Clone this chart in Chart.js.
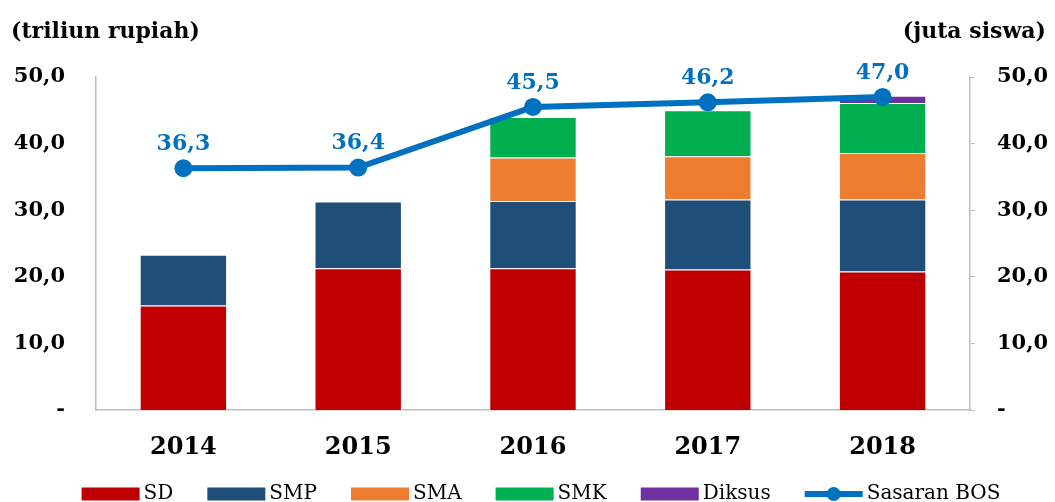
<!DOCTYPE html>
<html>
<head>
<meta charset="utf-8">
<script src="https://cdn.jsdelivr.net/npm/chart.js@4/dist/chart.umd.min.js"></script>
<style>
  html, body { margin: 0; padding: 0; background: #fff; }
  #wrap { width: 1055px; height: 502px; }
</style>
</head>
<body>
<div id="wrap"><canvas id="bos"></canvas></div>
<script>
const years = ["2014", "2015", "2016", "2017", "2018"];
const sd = [15.7, 21.3, 21.3, 21.1, 20.8];
const smp = [7.6, 10.0, 10.1, 10.5, 10.8];
const sma = [0, 0, 6.5, 6.5, 7.0];
const smk = [0, 0, 6.1, 6.9, 7.5];
const diksus = [0, 0, 0, 0, 1.1];
const sasaranBos = [36.3, 36.4, 45.5, 46.2, 47.0];

const serif = "'DejaVu Serif', serif";
const blue = "#0070C0";

function fmt(v) {
  return v === 0 ? "-" : v.toFixed(1).replace(".", ",");
}

// point labels above the line, the two unit captions, and a legend
// with the tight box/text spacing of the original
const extras = {
  id: "extras",
  afterDatasetsDraw(chart) {
    const ctx = chart.ctx;
    const meta = chart.getDatasetMeta(5);
    ctx.save();
    ctx.font = "bold 22px " + serif;
    ctx.fillStyle = blue;
    ctx.textAlign = "center";
    ctx.textBaseline = "middle";
    meta.data.forEach((p, i) => {
      ctx.fillText(fmt(sasaranBos[i]), p.x, p.y - 24);
    });
    ctx.fillStyle = "#000";
    ctx.textAlign = "left";
    ctx.fillText("(triliun rupiah)", 11, 32);
    ctx.textAlign = "right";
    ctx.fillText("(juta siswa)", 1046, 32);
    ctx.restore();
  },
  afterDraw(chart) {
    const ctx = chart.ctx;
    const sets = chart.data.datasets;
    const boxW = 58, boxH = 13, gapText = 4, gapItem = 34, cy = 494;
    ctx.save();
    ctx.font = "20px " + serif;
    ctx.textBaseline = "middle";
    ctx.textAlign = "left";
    const widths = sets.map((d) => boxW + gapText + ctx.measureText(d.label).width);
    const total = widths.reduce((a, b) => a + b, 0) + gapItem * (sets.length - 1);
    let x = 541 - total / 2;
    sets.forEach((d, i) => {
      if (d.type === "line") {
        ctx.strokeStyle = d.borderColor;
        ctx.lineWidth = 6;
        ctx.beginPath();
        ctx.moveTo(x, cy);
        ctx.lineTo(x + boxW, cy);
        ctx.stroke();
        ctx.fillStyle = d.borderColor;
        ctx.beginPath();
        ctx.arc(x + boxW / 2, cy, 7, 0, Math.PI * 2);
        ctx.fill();
      } else {
        ctx.fillStyle = d.backgroundColor;
        ctx.fillRect(x, cy - boxH / 2, boxW, boxH);
      }
      ctx.fillStyle = "#000";
      ctx.fillText(d.label, x + boxW + gapText, cy);
      x += widths[i] + gapItem;
    });
    ctx.restore();
  }
};

function bar(label, data, color) {
  return {
    type: "bar",
    label: label,
    data: data,
    backgroundColor: color,
    borderColor: "rgba(255,255,255,0.35)",
    borderWidth: 1,
    yAxisID: "y",
    stack: "s",
    order: 2
  };
}

new Chart(document.getElementById("bos"), {
  data: {
    labels: years,
    datasets: [
      bar("SD", sd, "#C00000"),
      bar("SMP", smp, "#1F4E79"),
      bar("SMA", sma, "#ED7D31"),
      bar("SMK", smk, "#00B050"),
      bar("Diksus", diksus, "#7030A0"),
      {
        type: "line",
        label: "Sasaran BOS",
        data: sasaranBos,
        borderColor: blue,
        backgroundColor: blue,
        borderWidth: 6,
        pointRadius: 9,
        pointHoverRadius: 9,
        pointBackgroundColor: blue,
        pointBorderWidth: 0,
        tension: 0,
        yAxisID: "y1",
        order: 1
      }
    ]
  },
  options: {
    responsive: true,
    maintainAspectRatio: false,
    animation: false,
    layout: { padding: { top: 77, left: 0, right: 0, bottom: 0 } },
    datasets: { bar: { categoryPercentage: 1, barPercentage: 0.5 } },
    plugins: {
      tooltip: { enabled: false },
      legend: { display: false }
    },
    scales: {
      x: {
        grid: { display: false },
        border: { color: "#BFBFBF", width: 1.5 },
        ticks: {
          font: { family: serif, size: 24, weight: "bold" },
          color: "#000",
          padding: 15
        },
        afterFit: (s) => { s.height = 92; }
      },
      y: {
        position: "left",
        stacked: true,
        min: 0,
        max: 50,
        grid: { display: false, drawTicks: false },
        border: { color: "#BFBFBF", width: 1.5 },
        ticks: {
          stepSize: 10,
          padding: 31,
          font: { family: serif, size: 21, weight: "bold" },
          color: "#000",
          callback: (v) => fmt(v)
        },
        afterFit: (s) => { s.width = 96; }
      },
      y1: {
        position: "right",
        min: 0,
        max: 50,
        grid: { drawOnChartArea: false, color: "#BFBFBF", tickLength: 5 },
        border: { color: "#BFBFBF", width: 1.5 },
        ticks: {
          stepSize: 10,
          padding: 22,
          font: { family: serif, size: 21, weight: "bold" },
          color: "#000",
          callback: (v) => fmt(v)
        },
        afterFit: (s) => { s.width = 85; }
      }
    }
  },
  plugins: [extras]
});
</script>
</body>
</html>
